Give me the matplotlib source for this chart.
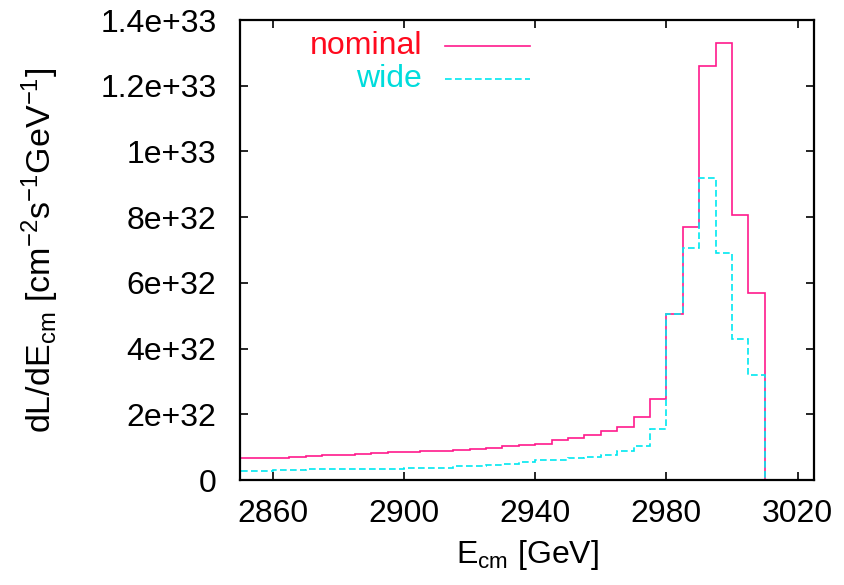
import numpy as np
import matplotlib
matplotlib.use("Agg")
import matplotlib.pyplot as plt
from matplotlib.ticker import FuncFormatter

plt.rcParams['font.family'] = ['Liberation Sans', 'DejaVu Sans']
plt.rcParams['mathtext.fontset'] = 'custom'
plt.rcParams['mathtext.rm'] = 'Liberation Sans'
plt.rcParams['mathtext.it'] = 'Liberation Sans:italic'

# 5 GeV bins, 2850 .. 3025 (last bins empty)
bin_edges = np.arange(2850, 3030, 5)

# dL/dE_cm in units of 1e32 cm^-2 s^-1 GeV^-1
nominal = [0.66, 0.66, 0.68, 0.71, 0.72, 0.76, 0.77, 0.79, 0.82, 0.84,
           0.86, 0.88, 0.89, 0.91, 0.94, 0.98, 1.05, 1.08, 1.11, 1.21,
           1.27, 1.38, 1.48, 1.61, 1.91, 2.47, 5.06, 7.70, 12.6, 13.3,
           8.07, 5.70, 0.0, 0.0, 0.0]
wide = [0.26, 0.26, 0.30, 0.31, 0.32, 0.32, 0.33, 0.34, 0.34, 0.35,
        0.37, 0.38, 0.38, 0.42, 0.42, 0.46, 0.49, 0.54, 0.60, 0.60,
        0.66, 0.70, 0.75, 0.89, 1.03, 1.55, 5.06, 7.06, 9.20, 6.90,
        4.30, 3.20, 0.0, 0.0, 0.0]

labels = ['nominal', 'wide']
colors = ['#ff1a8c', '#00e8f0']
text_colors = ['#ff0a1e', '#00dcdc']
styles = ['-', (0, (4, 2))]

xticks = [2860, 2900, 2940, 2980, 3020]
yticks = np.arange(0, 1.41e33, 2e32)

fig = plt.figure(figsize=(8.44, 5.85), dpi=100)
ax = fig.add_axes([240/844, 1 - 480/585, 574/844, 460/585])

for vals, c, ls in zip([nominal, wide], colors, styles):
    ax.stairs(np.array(vals) * 1e32, bin_edges, color=c, linestyle=ls,
              linewidth=1.2, baseline=0)

ax.set_xlim(2850, 3025)
ax.set_ylim(0, 1.4e33)
ax.set_xticks(xticks)
ax.set_yticks(yticks)
ax.yaxis.set_major_formatter(FuncFormatter(lambda v, p: '%g' % v))
ax.tick_params(direction='in', length=6, width=1.2, top=True, right=True,
               labelsize=23)
ax.tick_params(axis='y', pad=17)
ax.tick_params(axis='x', pad=14)
for s in ax.spines.values():
    s.set_linewidth(1.6)

ax.set_xlabel(r'E$_{\rm cm}$ [GeV]', fontsize=23, labelpad=6)
ax.set_ylabel(r'dL/dE$_{\rm cm}$ [cm$^{-2}$s$^{-1}$GeV$^{-1}$]', fontsize=24.5,
              labelpad=28)

# gnuplot-style key: right-aligned text followed by line sample
for i, (lab, c, tc, ls) in enumerate(zip(labels, colors, text_colors, styles)):
    y = 0.943 - i * 0.072
    ax.text(0.317, y, lab, color=tc, fontsize=23, ha='right', va='center',
            transform=ax.transAxes)
    ax.plot([0.357, 0.505], [y, y], color=c, linestyle=ls, linewidth=1.2,
            transform=ax.transAxes)

fig.savefig('out.png', dpi=100)
